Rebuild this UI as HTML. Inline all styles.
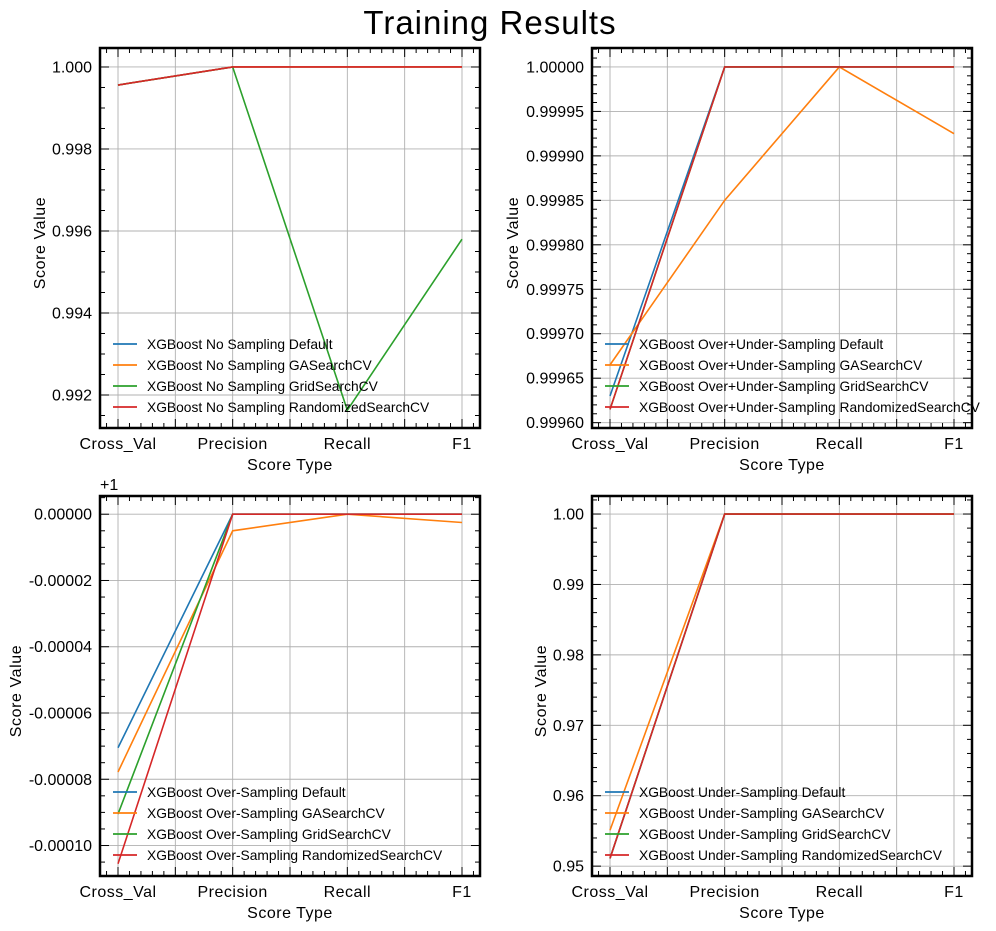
<!DOCTYPE html>
<html><head><meta charset="utf-8"><style>
body{margin:0;background:#fff;}
svg{display:block;font-family:"Liberation Sans",Arial,sans-serif;}
</style></head><body>
<svg id="chart" width="996" height="931" viewBox="0 0 996 931" xmlns="http://www.w3.org/2000/svg">
<text x="490" y="34" text-anchor="middle" font-size="33" letter-spacing="1">Training Results</text>
</svg>
<script>
const categories = ["Cross_Val","Precision","Recall","F1"];
const colors = ["#1f77b4","#ff7f0e","#2ca02c","#d62728"];
const methods = ["Default","GASearchCV","GridSearchCV","RandomizedSearchCV"];

const p1Default = [0.99956, 1.0, 1.0, 1.0];
const p1GA      = [0.99956, 1.0, 1.0, 1.0];
const p1Grid    = [0.99956, 1.0, 0.99163, 0.99580];
const p1Random  = [0.99956, 1.0, 1.0, 1.0];

const p2Default = [0.99963, 1.0, 1.0, 1.0];
const p2GA      = [0.999665, 0.99985, 1.0, 0.999925];
const p2Grid    = [0.999615, 1.0, 1.0, 1.0];
const p2Random  = [0.999615, 1.0, 1.0, 1.0];

const p3Default = [0.9999295, 1.0, 1.0, 1.0];
const p3GA      = [0.9999222, 0.999995, 1.0, 0.9999975];
const p3Grid    = [0.9999095, 1.0, 1.0, 1.0];
const p3Random  = [0.9998945, 1.0, 1.0, 1.0];

const p4Default = [0.9511, 1.0, 1.0, 1.0];
const p4GA      = [0.9551, 1.0, 1.0, 1.0];
const p4Grid    = [0.9511, 1.0, 1.0, 1.0];
const p4Random  = [0.9511, 1.0, 1.0, 1.0];

const p1Ticks = ["1.000","0.998","0.996","0.994","0.992"];
const p1TickVals = [1.0,0.998,0.996,0.994,0.992];
const p2Ticks = ["1.00000","0.99995","0.99990","0.99985","0.99980","0.99975","0.99970","0.99965","0.99960"];
const p2TickVals = [1.0,0.99995,0.9999,0.99985,0.9998,0.99975,0.9997,0.99965,0.9996];
const p3Ticks = ["0.00000","-0.00002","-0.00004","-0.00006","-0.00008","-0.00010"];
const p3TickVals = [0,-0.00002,-0.00004,-0.00006,-0.00008,-0.0001];
const p4Ticks = ["1.00","0.99","0.98","0.97","0.96","0.95"];
const p4TickVals = [1.0,0.99,0.98,0.97,0.96,0.95];

const NS="http://www.w3.org/2000/svg";
const svg=document.getElementById('chart');
function mk(tag,attrs,parent){const e=document.createElementNS(NS,tag);for(const k in attrs)e.setAttribute(k,attrs[k]);(parent||svg).appendChild(e);return e;}

const panels=[
 {id:"no-sampling",label:"No Sampling",L:100,T:48,ymin:0.991195,ymax:1.000463,offset:0,series:[p1Default,p1GA,p1Grid,p1Random],ticks:p1Ticks,tv:p1TickVals,minorStep:0.0005,ylabX:40},
 {id:"over-under-sampling",label:"Over+Under-Sampling",L:592,T:48,ymin:0.999594,ymax:1.0000213,offset:0,series:[p2Default,p2GA,p2Grid,p2Random],ticks:p2Ticks,tv:p2TickVals,minorStep:0.00001,ylabX:513},
 {id:"over-sampling",label:"Over-Sampling",L:100,T:496,ymin:-0.0001092,ymax:0.0000055,offset:1,series:[p3Default,p3GA,p3Grid,p3Random],ticks:p3Ticks,tv:p3TickVals,minorStep:0.000005,ylabX:16},
 {id:"under-sampling",label:"Under-Sampling",L:592,T:496,ymin:0.9486,ymax:1.00256,offset:0,series:[p4Default,p4GA,p4Grid,p4Random],ticks:p4Ticks,tv:p4TickVals,minorStep:0.002,ylabX:541}
];
const W=380,H=380,xmin=-0.157,xmax=3.157;
const FS=16;

panels.forEach(p=>{
  const g=mk('g',{});
  
  
  const xs=v=>p.L+(v-xmin)/(xmax-xmin)*W;
  const ys=v=>p.T+H-((v-p.offset)-p.ymin)/(p.ymax-p.ymin)*H;
  const B=p.T+H,R=p.L+W;
  for(let k=0;k<=6;k++){const x=xs(k*0.5);const l=mk('line',{x1:x,x2:x,y1:p.T,y2:B,stroke:'#b0b0b0','stroke-width':0.9},g);}
  p.tv.forEach(v=>{const y=ys(v+p.offset);const l=mk('line',{x1:p.L,x2:R,y1:y,y2:y,stroke:'#b0b0b0','stroke-width':0.9},g);});
  for(let k=-1;k<=32;k++){const v=k*0.1;if(v<xmin||v>xmax)continue;const x=xs(v);const major=(k%5===0);const len=major?9:5;
    mk('line',{x1:x,x2:x,y1:B,y2:B-len,stroke:'#000','stroke-width':1},g);mk('line',{x1:x,x2:x,y1:p.T,y2:p.T+len,stroke:'#000','stroke-width':1},g);}
  const st=p.minorStep;const start=Math.ceil(p.ymin/st),end=Math.floor(p.ymax/st);
  for(let k=start;k<=end;k++){const v=k*st;const y=ys(v+p.offset);const major=p.tv.some(t=>Math.abs(t-v)<st*0.01);const len=major?9:5;
    mk('line',{x1:p.L,x2:p.L+len,y1:y,y2:y,stroke:'#000','stroke-width':1},g);mk('line',{x1:R,x2:R-len,y1:y,y2:y,stroke:'#000','stroke-width':1},g);}
  p.series.forEach((s,i)=>{const pts=s.map((v,j)=>xs(j)+','+ys(v)).join(' ');const pl=mk('polyline',{points:pts,fill:'none',stroke:colors[i],'stroke-width':1.6},g);
    });
  const fr=mk('rect',{x:p.L,y:p.T,width:W,height:H,fill:'none',stroke:'#000','stroke-width':2.5},g);
  
  p.ticks.forEach((t,i)=>{const tx=mk('text',{x:p.L-8,y:ys(p.tv[i]+p.offset)+5.5,'text-anchor':'end','font-size':FS},g);tx.textContent=t;
    });
  categories.forEach((c,j)=>{const tx=mk('text',{x:xs(j),y:B+21,'text-anchor':'middle','font-size':FS,'letter-spacing':0.5},g);tx.textContent=c;
    });
  const xl=mk('text',{x:p.L+W/2,y:B+42,'text-anchor':'middle','font-size':FS,'letter-spacing':0.5},g);xl.textContent='Score Type';
  
  const yl=mk('text',{x:p.ylabX,y:p.T+H/2,'text-anchor':'middle','font-size':FS,'letter-spacing':0.6,transform:'rotate(-90 '+(p.ylabX+5)+' '+(p.T+H/2)+')'},g);yl.textContent='Score Value';
  
  if(p.offset){const o=mk('text',{x:p.L,y:p.T-6,'font-size':FS},g);o.textContent='+1';}
  methods.forEach((m,i)=>{const y=p.T+296+i*21;
    const lg=mk('g',{},g);
    mk('line',{x1:p.L+13,x2:p.L+37,y1:y,y2:y,stroke:colors[i],'stroke-width':1.8},lg);
    const tx=mk('text',{x:p.L+47,y:y+5,'font-size':13.8},lg);tx.textContent='XGBoost '+p.label+' '+m;});
});
</script>
</body></html>
